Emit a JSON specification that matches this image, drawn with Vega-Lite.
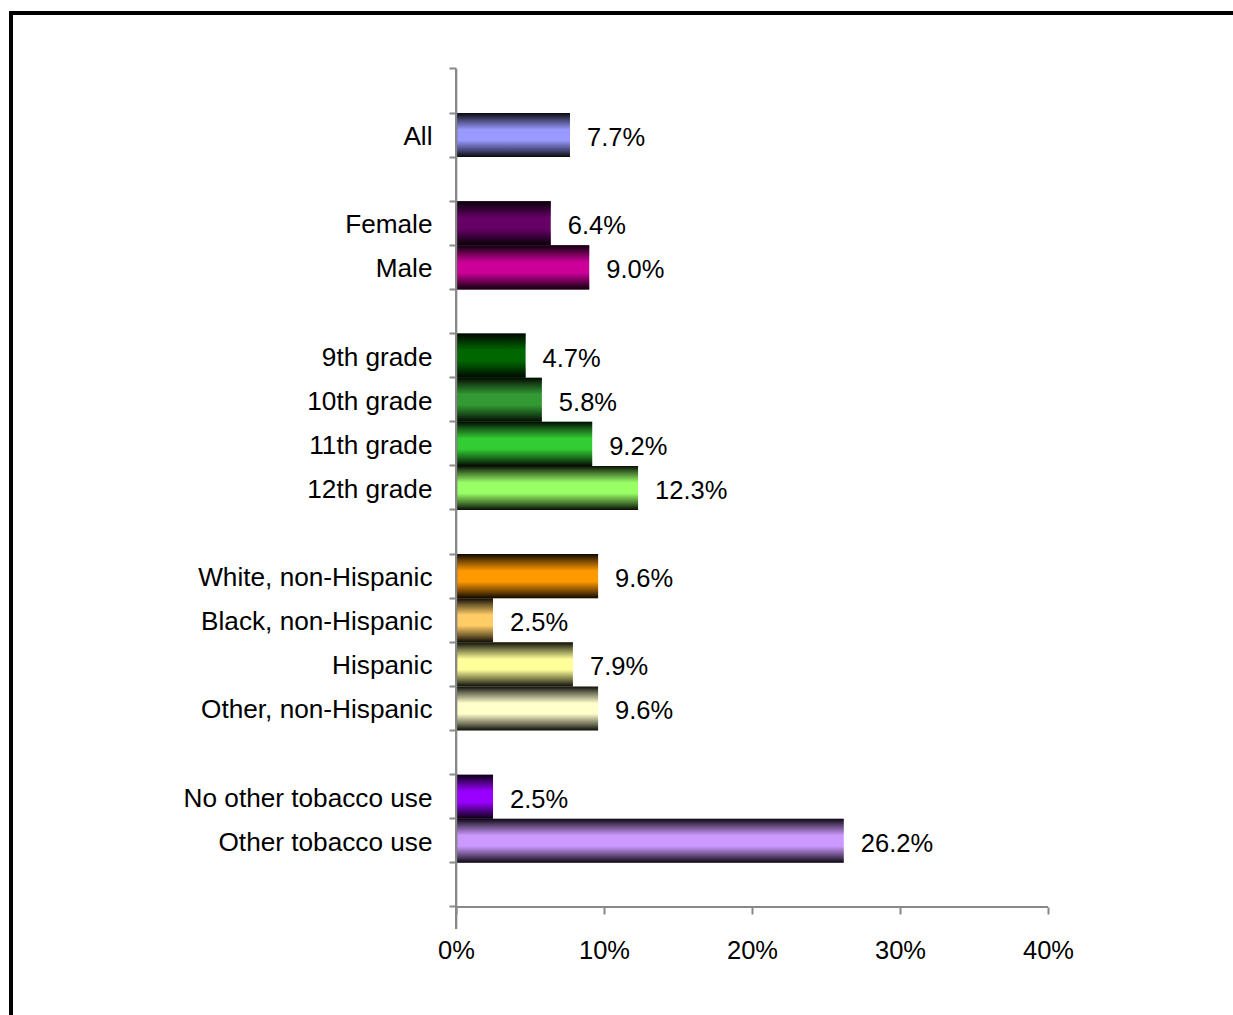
{
  "$schema": "https://vega.github.io/schema/vega-lite/v6.json",
  "autosize": {"type": "none"},
  "padding": {"left": 11, "top": 13, "right": 0, "bottom": 0},
  "width": 1230,
  "height": 1038,
  "background": "white",
  "config": {
    "view": {"stroke": "black", "strokeWidth": 4},
    "font": "Liberation Sans"
  },
  "data": {
    "values": [
      {"group": "All", "value": 7.7},
      {"group": "Female", "value": 6.4},
      {"group": "Male", "value": 9.0},
      {"group": "9th grade", "value": 4.7},
      {"group": "10th grade", "value": 5.8},
      {"group": "11th grade", "value": 9.2},
      {"group": "12th grade", "value": 12.3},
      {"group": "White, non-Hispanic", "value": 9.6},
      {"group": "Black, non-Hispanic", "value": 2.5},
      {"group": "Hispanic", "value": 7.9},
      {"group": "Other, non-Hispanic", "value": 9.6},
      {"group": "No other tobacco use", "value": 2.5},
      {"group": "Other tobacco use", "value": 26.2}
    ]
  },
  "layer": [
    {
      "mark": {"type": "bar"},
      "encoding": {
        "y": {
          "field": "group", "type": "nominal",
          "scale": {
            "domain": [" ", "All", "  ", "Female", "Male", "   ", "9th grade", "10th grade", "11th grade", "12th grade", "    ", "White, non-Hispanic", "Black, non-Hispanic", "Hispanic", "Other, non-Hispanic", "     ", "No other tobacco use", "Other tobacco use", "      ", "       ", "        "],
            "range": [55.9, 982.2],
            "paddingInner": 0, "paddingOuter": 0
          },
          "axis": {
            "title": null,
            "orient": "left",
            "offset": -445,
            "domain": false,
            "values": [" ", "All", "  ", "Female", "Male", "   ", "9th grade", "10th grade", "11th grade", "12th grade", "    ", "White, non-Hispanic", "Black, non-Hispanic", "Hispanic", "Other, non-Hispanic", "     ", "No other tobacco use", "Other tobacco use", "      "],
            "bandPosition": 1,
            "tickExtra": true,
            "tickSize": 7,
            "tickColor": "#888888",
            "tickWidth": 2,
            "labelPadding": 17,
            "labelFontSize": 26.2,
            "labelColor": "black",
            "labelFont": "Liberation Sans",
            "labelLimit": 0,
            "labelOffset": 2,
            "grid": false
          }
        },
        "x": {
          "field": "value", "type": "quantitative",
          "scale": {"domain": [-30.07, 53.04], "nice": false, "zero": false},
          "axis": {
            "title": null,
            "orient": "bottom",
            "offset": -144,
            "domain": false,
            "grid": false,
            "values": [0, 10, 20, 30, 40],
            "labelExpr": "datum.value + '%'",
            "tickSize": 7,
            "tickColor": "#888888",
            "tickWidth": 2,
            "labelPadding": 24,
            "labelFontSize": 25.5,
            "labelColor": "black",
            "labelFont": "Liberation Sans"
          }
        },
        "x2": {"datum": 0},
        "color": {
          "field": "group", "type": "nominal", "legend": null,
          "scale": {
            "domain": ["All", "Female", "Male", "9th grade", "10th grade", "11th grade", "12th grade", "White, non-Hispanic", "Black, non-Hispanic", "Hispanic", "Other, non-Hispanic", "No other tobacco use", "Other tobacco use"],
            "range": ["#9999ff", "#660066", "#cc0099", "#006600", "#339933", "#33cc33", "#99ff66", "#ff9900", "#ffcc66", "#ffff99", "#ffffcc", "#9900ff", "#cc99ff"]
          }
        }
      }
    },
    {
      "mark": {
        "type": "bar",
        "color": {
          "gradient": "linear", "x1": 0, "y1": 0, "x2": 0, "y2": 1,
          "stops": [
            {"offset": 0, "color": "rgba(0,0,0,0.95)"},
            {"offset": 0.15, "color": "rgba(0,0,0,0.55)"},
            {"offset": 0.38, "color": "rgba(0,0,0,0)"},
            {"offset": 0.62, "color": "rgba(0,0,0,0)"},
            {"offset": 0.85, "color": "rgba(0,0,0,0.55)"},
            {"offset": 1, "color": "rgba(0,0,0,0.95)"}
          ]
        }
      },
      "encoding": {
        "y": {"field": "group", "type": "nominal"},
        "x": {"field": "value", "type": "quantitative"},
        "x2": {"datum": 0}
      }
    },
    {
      "mark": {"type": "text", "align": "left", "baseline": "middle", "dx": 17, "dy": 3, "fontSize": 25.5, "font": "Liberation Sans", "color": "black"},
      "transform": [{"calculate": "format(datum.value, '.1f') + '%'", "as": "label"}],
      "encoding": {
        "y": {"field": "group", "type": "nominal"},
        "x": {"field": "value", "type": "quantitative"},
        "text": {"field": "label"}
      }
    },
    {
      "mark": {"type": "rule", "color": "#888888", "strokeWidth": 2},
      "encoding": {
        "x": {"datum": 0},
        "y": {"datum": " ", "bandPosition": 0},
        "y2": {"datum": "       "}
      }
    },
    {
      "mark": {"type": "rule", "color": "#888888", "strokeWidth": 2},
      "encoding": {
        "y": {"datum": "       ", "bandPosition": 0},
        "x": {"datum": 0},
        "x2": {"datum": 40}
      }
    }
  ]
}
